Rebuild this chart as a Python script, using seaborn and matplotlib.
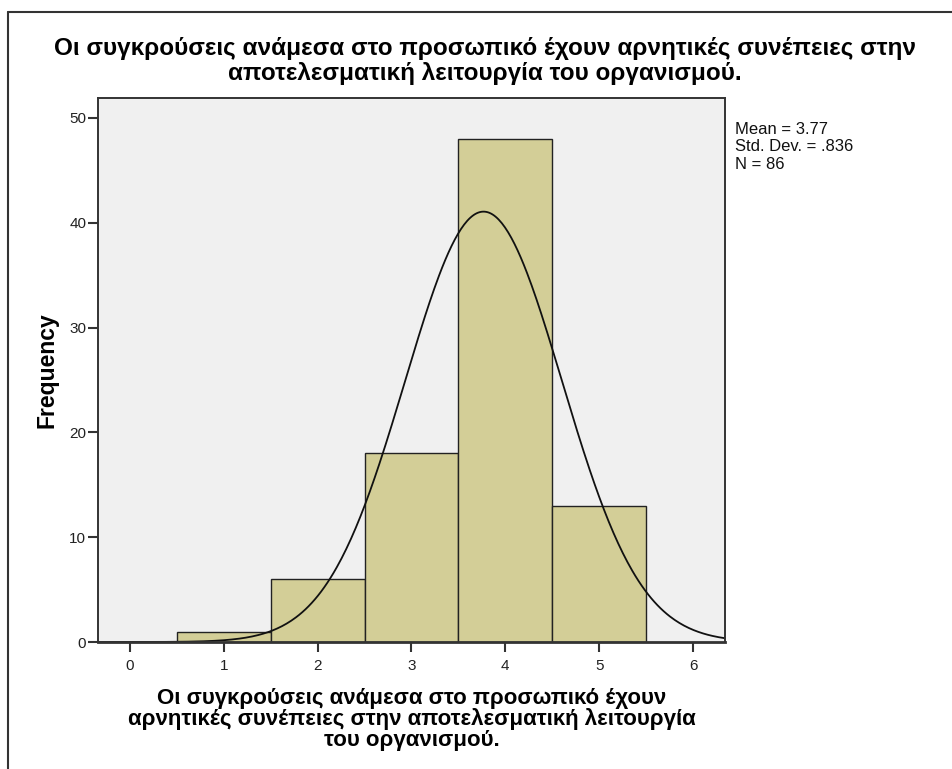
import numpy as np
import matplotlib
matplotlib.use("Agg")
import matplotlib.pyplot as plt
from matplotlib.lines import Line2D
import seaborn as sns

# Response scale and frequency of each answer
scores = [1, 2, 3, 4, 5]
counts = [1, 6, 18, 48, 13]
x_ticks = [0, 1, 2, 3, 4, 5, 6]
y_ticks = [0, 10, 20, 30, 40, 50]

title = ("Οι συγκρούσεις ανάμεσα στο προσωπικό έχουν αρνητικές συνέπειες στην\n"
         "αποτελεσματική λειτουργία του οργανισμού.")
x_label = ("Οι συγκρούσεις ανάμεσα στο προσωπικό έχουν\n"
           "αρνητικές συνέπειες στην αποτελεσματική λειτουργία\n"
           "του οργανισμού.")

sns.set_theme(style="white")
plt.rcParams["font.family"] = ["Liberation Sans", "DejaVu Sans"]

values = np.repeat(scores, counts).astype(float)
n = len(values)
mean = values.mean()
sd = values.std(ddof=1)

W, H = 953, 769
fig = plt.figure(figsize=(W / 100, H / 100), dpi=100)
fig.patch.set_facecolor("white")
ax = fig.add_axes([98 / W, 1 - 642 / H, (725 - 98) / W, (642 - 98) / H])
ax.set_facecolor("#F0F0F0")

edges = np.arange(0.5, 6.0, 1.0)
sns.histplot(x=values, bins=edges, ax=ax,
             color="#D3CE97", alpha=1, edgecolor="#222222", linewidth=1.0)

# Normal curve scaled to counts (bin width 1)
xs = np.linspace(-0.34, 6.34, 400)
pdf = np.exp(-0.5 * ((xs - mean) / sd) ** 2) / (sd * np.sqrt(2 * np.pi))
sns.lineplot(x=xs, y=n * pdf, ax=ax, color="#111111", linewidth=1.3)

ax.set_xlim(-0.34, 6.34)
ax.set_ylim(0, 51.9)
ax.set_xticks(x_ticks)
ax.set_yticks(y_ticks)
ax.tick_params(axis="both", direction="out", length=7, width=1.5,
               color="#333333", labelsize=11, labelcolor="#222222")
ax.tick_params(axis="x", bottom=True, pad=5)
ax.tick_params(axis="y", left=True, pad=1.5)
for s in ax.spines.values():
    s.set_color("#333333")
    s.set_linewidth(1.4)
ax.spines["bottom"].set_linewidth(2.0)

ax.set_xlabel(x_label, fontsize=16, fontweight="bold", labelpad=11,
              linespacing=0.97, color="black")
ax.set_ylabel("Frequency", fontsize=16.5, fontweight="bold", labelpad=8,
              color="black")
fig.text(485 / W, 1 - 61 / H, title, ha="center", va="center",
         fontsize=17.5, fontweight="bold", linespacing=1.15, color="black")

stats = f"Mean = {mean:.2f}\nStd. Dev. = {sd:.3f}".replace("= 0.", "= .") + f"\nN = {n}"
fig.text(735 / W, 1 - 122 / H, stats, ha="left", va="top", fontsize=12,
         linespacing=1.2, color="#111111")

# Outer frame
fig.add_artist(Line2D([8 / W, 1.0], [1 - 12 / H, 1 - 12 / H],
                      transform=fig.transFigure, color="#333333", linewidth=1.5))
fig.add_artist(Line2D([8 / W, 8 / W], [0.0, 1 - 12 / H],
                      transform=fig.transFigure, color="#333333", linewidth=1.5))

fig.savefig("out.png", dpi=100)
